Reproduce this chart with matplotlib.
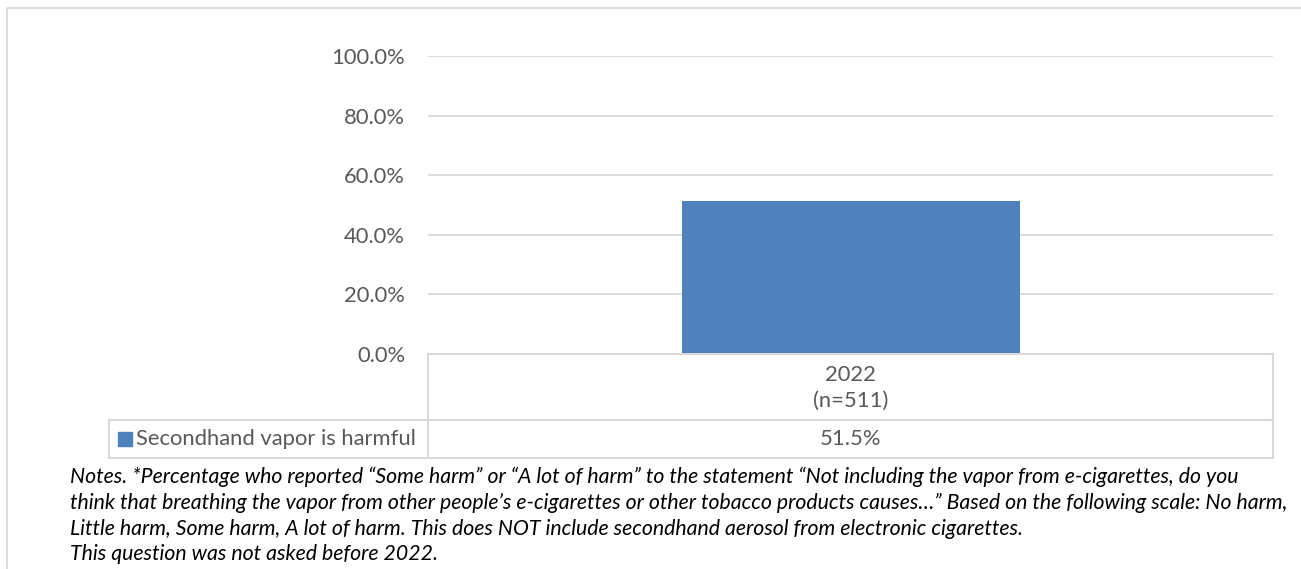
import matplotlib
matplotlib.use('Agg')
import matplotlib.pyplot as plt
from matplotlib.lines import Line2D
from matplotlib.patches import Rectangle

# data
categories = ['2022\n(n=511)']
series_name = 'Secondhand vapor is harmful'
values = [51.5]
y_ticks = [0, 20, 40, 60, 80, 100]
notes = [
    'Notes. *Percentage who reported \u201cSome harm\u201d or \u201cA lot of harm\u201d to the statement \u201cNot including the vapor from e-cigarettes, do you',
    'think that breathing the vapor from other people\u2019s e-cigarettes or other tobacco products causes\u2026\u201d Based on the following scale: No harm,',
    'Little harm, Some harm, A lot of harm. This does NOT include secondhand aerosol from electronic cigarettes.',
    'This question was not asked before 2022.',
]

W, H = 1301, 569
BAR_COLOR = '#4f81bd'
GRID = '#d9d9d9'
TXT = '#595959'
FONT = 'Lato'
FS = 15.8

plt.rcParams['font.family'] = [FONT, 'DejaVu Sans']

fig = plt.figure(figsize=(W / 100, H / 100), dpi=100)


def fx(px):
    return px / W


def fy(py):
    return 1 - py / H


# plot area in pixels
left, right, top, bottom = 428, 1273, 56, 354
ax = fig.add_axes([fx(left), fy(bottom), fx(right) - fx(left), fy(top) - fy(bottom)])
ax.bar(range(len(values)), values, width=0.4, color=BAR_COLOR, zorder=3)
ax.set_xlim(-0.5, len(values) - 0.5)
ax.set_ylim(0, 100)
ax.set_yticks(y_ticks)
ax.set_yticklabels([f'{t:.1f}%' for t in y_ticks], color=TXT, fontsize=FS)
ax.tick_params(axis='y', length=0, pad=16.5)
ax.set_xticks([])
ax.grid(axis='y', color=GRID, linewidth=1.3, zorder=0)
for s in ax.spines.values():
    s.set_visible(False)

# data table under the plot
tbl_left, row_mid, tbl_bottom = 109, 420, 458
lines = [
    ((left, right), (bottom, bottom)),
    ((tbl_left, right), (row_mid, row_mid)),
    ((tbl_left, right), (tbl_bottom, tbl_bottom)),
    ((left, left), (bottom, tbl_bottom)),
    ((right, right), (bottom, tbl_bottom)),
    ((tbl_left, tbl_left), (row_mid, tbl_bottom)),
]
for xs, ys in lines:
    fig.add_artist(Line2D([fx(x) for x in xs], [fy(y) for y in ys],
                          color=GRID, linewidth=1.45))

# outer chart border (left and top)
fig.add_artist(Line2D([fx(7), fx(7), fx(W)], [fy(H), fy(8), fy(8)],
                      color=GRID, linewidth=1.3))

for i, cat in enumerate(categories):
    cx = ax.transData.transform((i, 0))[0] / W
    fig.text(cx, fy((bottom + row_mid) / 2 + 1), cat, ha='center', va='center',
             color=TXT, fontsize=FS, linespacing=1.4)
    fig.text(cx, fy((row_mid + tbl_bottom) / 2), f'{values[i]:.1f}%', ha='center',
             va='center', color=TXT, fontsize=FS)

# legend key in the table
fig.add_artist(Rectangle((fx(118), fy(446)), fx(14), fy(432) - fy(446),
                         color=BAR_COLOR, transform=fig.transFigure))
fig.text(fx(136), fy((row_mid + tbl_bottom) / 2), series_name, ha='left', va='center',
         color=TXT, fontsize=FS)

# notes
for k, line in enumerate(notes):
    fig.text(fx(70), fy(477 + k * 25.8), line, ha='left', va='center',
             fontsize=15.3, style='italic', color='#000000')

fig.savefig('out.png', dpi=100)
